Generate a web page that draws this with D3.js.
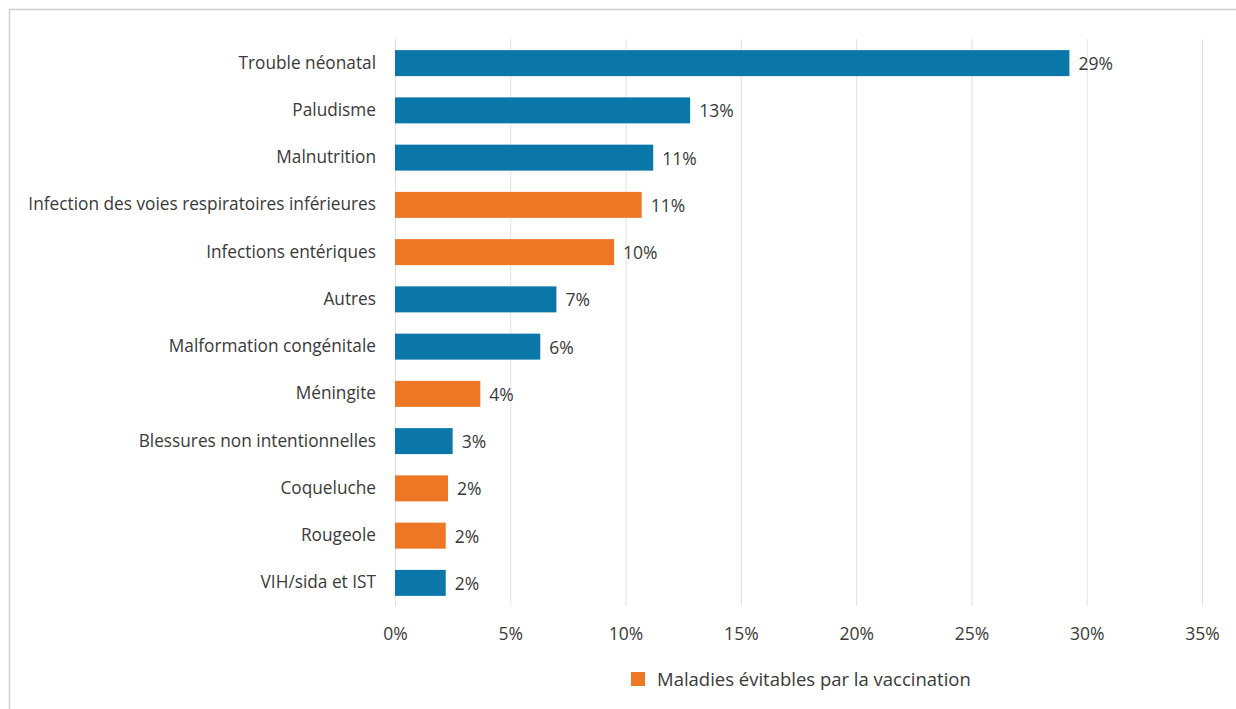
<!DOCTYPE html>
<html><head><meta charset="utf-8">
<script src="https://cdn.jsdelivr.net/npm/d3@7"></script>
<style>body{margin:0;background:#fff;} svg{display:block;}</style>
</head><body>
<svg id="c" width="1236" height="709"></svg>
<script>
const categories = ["Trouble néonatal","Paludisme","Malnutrition","Infection des voies respiratoires inférieures","Infections entériques","Autres","Malformation congénitale","Méningite","Blessures non intentionnelles","Coqueluche","Rougeole","VIH/sida et IST"];
const values = [29.25, 12.8, 11.2, 10.7, 9.5, 7.0, 6.3, 3.7, 2.5, 2.3, 2.2, 2.2];
const valueLabels = ["29%","13%","11%","11%","10%","7%","6%","4%","3%","2%","2%","2%"];
const vaccinePreventable = [false,false,false,true,true,false,false,true,false,true,true,false];
const ticks = [0,5,10,15,20,25,30,35];
const legendLabel = "Maladies évitables par la vaccination";

const svg = d3.select("#c");
const font = "'Open Sans', sans-serif";
const txt = "#3a3a3a";
const blue = "#0a77a8", orange = "#ee7726";

// frame
svg.append("rect").attr("x",9.5).attr("y",9.5).attr("width",1300).attr("height",800)
  .attr("fill","none").attr("stroke","#cfcfcf").attr("stroke-width",1.5);

const x = d3.scaleLinear().domain([0,35]).range([395,1202]);
const y = d3.scaleBand().domain(categories).range([39.5,606.5]).paddingInner(0.45).paddingOuter(0.225);

// gridlines
svg.append("g").selectAll("line").data(ticks).join("line")
  .attr("x1",d=>x(d)+0.5).attr("x2",d=>x(d)+0.5).attr("y1",39).attr("y2",606)
  .attr("stroke","#e2e2e2").attr("stroke-width",1);

// x axis labels
const xa = svg.append("g").attr("transform","translate(0,606)")
  .call(d3.axisBottom(x).tickValues(ticks).tickFormat(d=>d+"%").tickSize(0).tickPadding(22));
xa.select(".domain").remove();
xa.selectAll("text").attr("font-family",font).attr("font-size",17.5).attr("fill",txt);

// bars
svg.append("g").selectAll("rect").data(categories).join("rect")
  .attr("x",x(0)).attr("y",d=>y(d)).attr("height",y.bandwidth())
  .attr("width",(d,i)=>x(values[i])-x(0))
  .attr("fill",(d,i)=>vaccinePreventable[i]?orange:blue);

// value labels
svg.append("g").selectAll("text").data(categories).join("text")
  .attr("x",(d,i)=>x(values[i])+9).attr("y",d=>y(d)+y.bandwidth()/2).attr("dy","0.4em")
  .attr("font-family",font).attr("font-size",17.5).attr("fill",txt)
  .text((d,i)=>valueLabels[i]);

// category labels
const ya = svg.append("g").attr("transform","translate(395,0)")
  .call(d3.axisLeft(y).tickSize(0).tickPadding(19));
ya.select(".domain").remove();
ya.selectAll("text").attr("font-family",font).attr("font-size",16).attr("fill",txt);
let maxW = 0; ya.selectAll("text").each(function(){maxW=Math.max(maxW,this.getComputedTextLength());});
ya.selectAll("text").attr("font-size",16*348/maxW);

// legend
const lg = svg.append("g");
lg.append("rect").attr("x",631).attr("y",672).attr("width",14).attr("height",14).attr("fill",orange);
const lt = lg.append("text").attr("x",657).attr("y",679).attr("dy","0.36em")
  .attr("font-family",font).attr("font-size",17).attr("fill",txt).text(legendLabel);
lt.attr("font-size",17*314/lt.node().getComputedTextLength());
</script>
</body></html>
